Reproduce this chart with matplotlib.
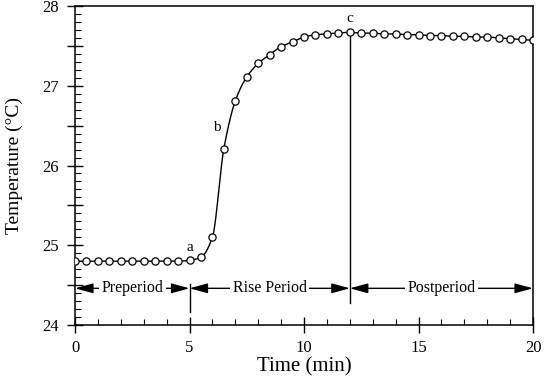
import numpy as np
import matplotlib
matplotlib.use("Agg")
import matplotlib.pyplot as plt
from matplotlib.ticker import MultipleLocator, FuncFormatter

plt.rcParams['font.family'] = ['Liberation Serif', 'DejaVu Serif']

time_min = np.arange(0, 20.01, 0.5)
temperature = [24.80, 24.80, 24.80, 24.80, 24.80, 24.80, 24.80, 24.80, 24.80, 24.80,
               24.81, 24.85, 25.10, 26.21, 26.81, 27.11, 27.28, 27.39, 27.49, 27.55,
               27.61, 27.64, 27.65, 27.66, 27.67, 27.66, 27.66, 27.65, 27.65, 27.64,
               27.64, 27.63, 27.63, 27.62, 27.62, 27.61, 27.61, 27.60, 27.59, 27.58,
               27.57]
point_labels = ["a", "b", "c"]
point_label_x = [5.0, 6.2, 12.0]
point_label_y = [24.97, 26.48, 27.84]
periods = ["Preperiod", "Rise Period", "Postperiod"]
period_bounds = [0, 5, 12, 20]
x_ticks = [0, 5, 10, 15, 20]


def monotone_cubic(x, y, n=20):
    x = np.asarray(x, float); y = np.asarray(y, float)
    h = np.diff(x); d = np.diff(y) / h
    m = np.zeros_like(y)
    m[0] = d[0]; m[-1] = d[-1]
    for i in range(1, len(x) - 1):
        if d[i - 1] * d[i] <= 0:
            m[i] = 0
        else:
            w1 = 2 * h[i] + h[i - 1]; w2 = h[i] + 2 * h[i - 1]
            m[i] = (w1 + w2) / (w1 / d[i - 1] + w2 / d[i])
    xs, ys = [], []
    for i in range(len(x) - 1):
        t = np.linspace(0, 1, n, endpoint=False)
        h00 = 2*t**3 - 3*t**2 + 1; h10 = t**3 - 2*t**2 + t
        h01 = -2*t**3 + 3*t**2; h11 = t**3 - t**2
        xs.append(x[i] + t * h[i])
        ys.append(h00*y[i] + h10*h[i]*m[i] + h01*y[i+1] + h11*h[i]*m[i+1])
    xs.append([x[-1]]); ys.append([y[-1]])
    return np.concatenate(xs), np.concatenate(ys)


fig = plt.figure(figsize=(5.45, 3.81), dpi=100)
ax = fig.add_axes([75/545, 1-325/381, (533-75)/545, (325-6)/381])

sx, sy = monotone_cubic(time_min, temperature)
ax.plot(sx, sy, color='black', lw=1.0, zorder=2)
ax.plot(time_min, temperature, 'o', ms=5.2, mfc='white', mec='black', mew=0.9, zorder=3)

for lab, lx, ly in zip(point_labels, point_label_x, point_label_y):
    ax.text(lx, ly, lab, ha='center', va='center', fontsize=11)

# period separators
ax.plot([5, 5], [24.16, 24.52], color='black', lw=1.0)
ax.plot([12, 12], [24.27, temperature[24]], color='black', lw=1.0, zorder=1)

arrow_y = 24.46
for name, a, b in zip(periods, period_bounds[:-1], period_bounds[1:]):
    ax.annotate('', xy=(a, arrow_y), xytext=(b, arrow_y),
                arrowprops=dict(arrowstyle='<|-|>,head_length=1.1,head_width=0.3',
                                color='black', lw=1.0, shrinkA=0, shrinkB=0))
    ax.text((a + b) / 2, arrow_y, name, ha='center', va='center', fontsize=11.5,
            bbox=dict(fc='white', ec='none', pad=2))

ax.set_xlim(0, 20)
ax.set_ylim(24, 28)
ax.set_xticks(x_ticks)
ax.xaxis.set_minor_locator(MultipleLocator(1))
ax.yaxis.set_major_locator(MultipleLocator(0.5))
ax.yaxis.set_minor_locator(MultipleLocator(0.1))
ax.yaxis.set_major_formatter(FuncFormatter(lambda v, p: f"{int(round(v))}" if abs(v - round(v)) < 1e-6 else ""))
ax.tick_params(which='major', direction='inout', length=11, width=1.0, labelsize=12)
ax.tick_params(axis='x', which='major', pad=5)
ax.tick_params(axis='y', which='major', pad=6)
ax.tick_params(which='minor', direction='in', length=4, width=0.8)
for s in ax.spines.values():
    s.set_linewidth(1.1)

ax.set_xlabel('Time (min)', fontsize=15, labelpad=1)
ax.set_ylabel('Temperature (°C)', fontsize=14, labelpad=14)

fig.savefig('out.png', dpi=100)
